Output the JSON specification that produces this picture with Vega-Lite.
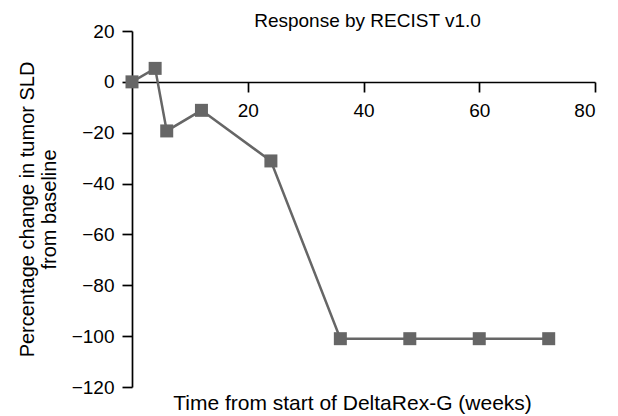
{
  "$schema": "https://vega.github.io/schema/vega-lite/v6.json",
  "width": 463,
  "height": 356,
  "autosize": {"type": "none"},
  "padding": {"left": 132, "top": 31, "right": 23, "bottom": 29},
  "background": "white",
  "config": {"view": {"stroke": null}, "font": "Liberation Sans"},
  "title": {"text": "Response by RECIST v1.0", "fontSize": 19, "fontWeight": "normal", "font": "Liberation Sans", "frame": "group", "offset": -9, "dx": 4, "color": "black"},
  "data": {"values": [
    {"week": 0, "pct": 0},
    {"week": 4, "pct": 5.3},
    {"week": 6, "pct": -19.3},
    {"week": 12, "pct": -11.2},
    {"week": 24, "pct": -31.1},
    {"week": 36, "pct": -101},
    {"week": 48, "pct": -101},
    {"week": 60, "pct": -101},
    {"week": 72, "pct": -101}
  ]},
  "encoding": {
    "x": {"field": "week", "type": "quantitative", "scale": {"domain": [0, 80], "nice": false, "zero": false},
      "axis": {"values": [20, 40, 60, 80], "offset": -305, "grid": false, "domainColor": "black", "domainWidth": 1.7, "tickColor": "black", "tickWidth": 1.7, "tickSize": 10, "labelFontSize": 19, "labelColor": "black", "labelPadding": 9, "labelFont": "Liberation Sans",
        "title": "Time from start of DeltaRex-G (weeks)", "titleFontSize": 21, "titleFontWeight": "normal", "titleColor": "black", "titleFont": "Liberation Sans", "titleAnchor": null, "titleX": 220, "titleY": 327, "titleBaseline": "alphabetic", "titleAlign": "center"}},
    "y": {"field": "pct", "type": "quantitative", "scale": {"domain": [-120, 20], "nice": false, "zero": false},
      "axis": {"values": [-120, -100, -80, -60, -40, -20, 0, 20], "grid": false, "domainColor": "black", "domainWidth": 1.7, "tickColor": "black", "tickWidth": 1.7, "tickSize": 10, "labelFontSize": 19, "labelColor": "black", "labelPadding": 8, "labelFont": "Liberation Sans",
        "title": ["Percentage change in tumor SLD", "from baseline"], "titleFontSize": 20, "titleFontWeight": "normal", "titleColor": "black", "titleFont": "Liberation Sans", "titleLineHeight": 22, "titlePadding": 12}}
  },
  "layer": [
    {"mark": {"type": "line", "color": "#666666", "strokeWidth": 2.5}},
    {"mark": {"type": "point", "shape": "square", "filled": true, "size": 169, "color": "#666666", "opacity": 1}}
  ]
}
